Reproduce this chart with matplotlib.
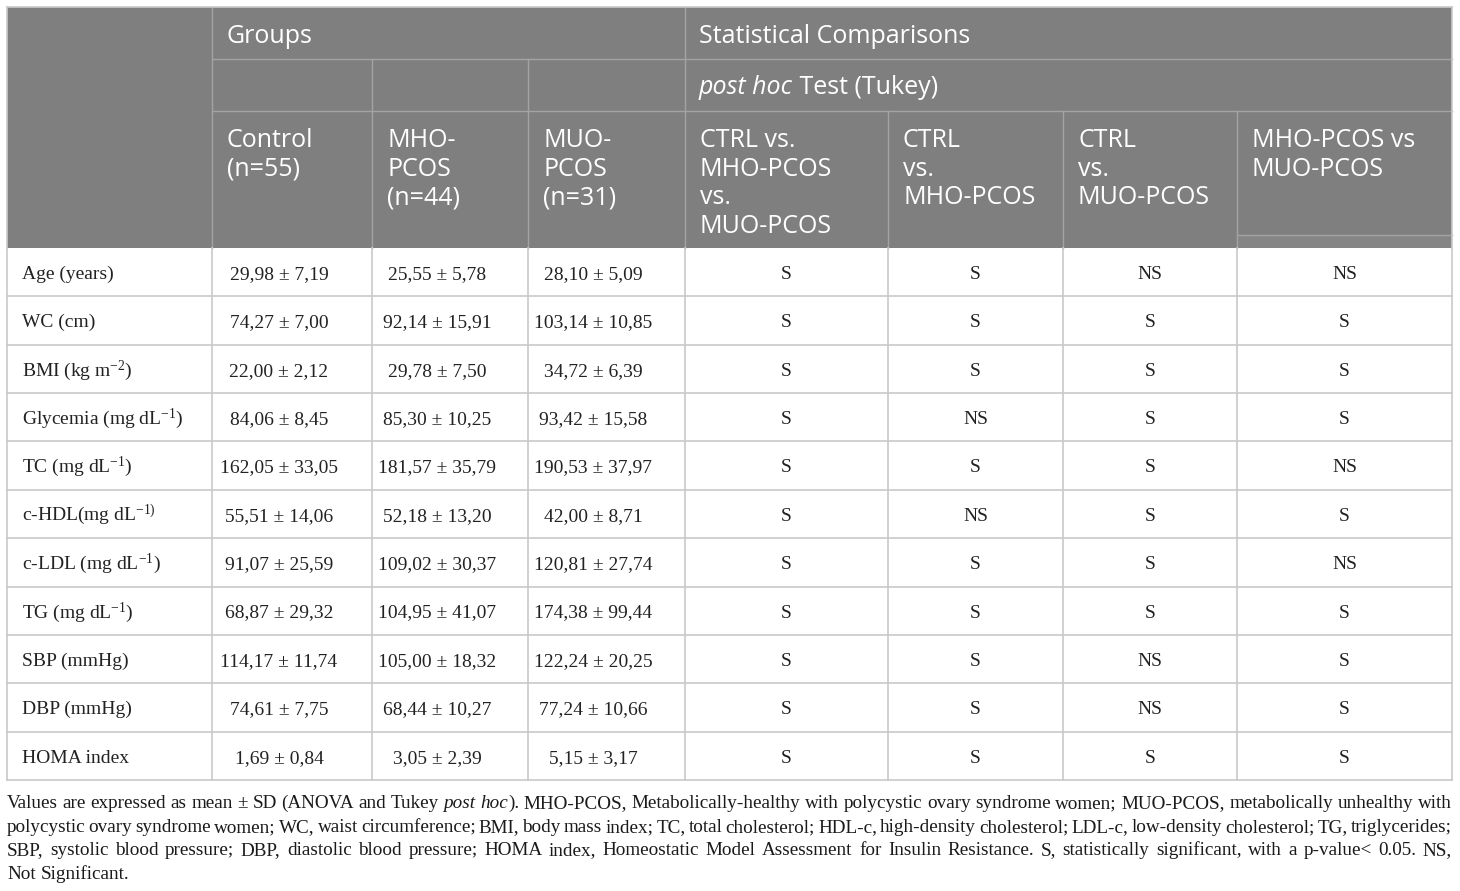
import matplotlib.pyplot as plt
import numpy as np

plt.rcParams['mathtext.fontset'] = 'custom'
plt.rcParams['mathtext.rm'] = 'Liberation Serif'
plt.rcParams['mathtext.it'] = 'Liberation Serif:italic'

# Table content
row_labels = ['Age (years)', 'WC (cm)', 'BMI (kg m$^{-2}$)', 'Glycemia (mg dL$^{-1}$)',
              'TC (mg dL$^{-1}$)', 'c-HDL(mg dL$^{-1)}$', 'c-LDL (mg dL$^{-1}$)',
              'TG (mg dL$^{-1}$)', 'SBP (mmHg)', 'DBP (mmHg)', 'HOMA index']

control = ['29,98 ± 7,19', '74,27 ± 7,00', '22,00 ± 2,12', '84,06 ± 8,45', '162,05 ± 33,05',
           '55,51 ± 14,06', '91,07 ± 25,59', '68,87 ± 29,32', '114,17 ± 11,74',
           '74,61 ± 7,75', '1,69 ± 0,84']
mho_pcos = ['25,55 ± 5,78', '92,14 ± 15,91', '29,78 ± 7,50', '85,30 ± 10,25', '181,57 ± 35,79',
            '52,18 ± 13,20', '109,02 ± 30,37', '104,95 ± 41,07', '105,00 ± 18,32',
            '68,44 ± 10,27', '3,05 ± 2,39']
muo_pcos = ['28,10 ± 5,09', '103,14 ± 10,85', '34,72 ± 6,39', '93,42 ± 15,58', '190,53 ± 37,97',
            '42,00 ± 8,71', '120,81 ± 27,74', '174,38 ± 99,44', '122,24 ± 20,25',
            '77,24 ± 10,66', '5,15 ± 3,17']

all_three = ['S'] * 11
ctrl_vs_mho = ['S', 'S', 'S', 'NS', 'S', 'NS', 'S', 'S', 'S', 'S', 'S']
ctrl_vs_muo = ['NS', 'S', 'S', 'S', 'S', 'S', 'S', 'S', 'NS', 'NS', 'S']
mho_vs_muo = ['NS', 'S', 'S', 'S', 'NS', 'S', 'NS', 'S', 'S', 'S', 'S']

group_headers = ['Control\n(n=55)', 'MHO-\nPCOS\n(n=44)', 'MUO-\nPCOS\n(n=31)']
comp_headers = ['CTRL vs.\nMHO-PCOS\nvs.\nMUO-PCOS', 'CTRL\nvs.\nMHO-PCOS',
                'CTRL\nvs.\nMUO-PCOS', 'MHO-PCOS vs\nMUO-PCOS']

footnote = [
    [[('Values', 'n')], [('are', 'n')], [('expressed', 'n')], [('as', 'n')], [('mean', 'n')],
     [('±', 'n')], [('SD', 'n')], [('(ANOVA', 'n')], [('and', 'n')], [('Tukey', 'n')],
     [('post', 'i')], [('hoc', 'i'), (').', 'n')]] +
    [[(w, 'n')] for w in 'MHO-PCOS, Metabolically-healthy with polycystic ovary syndrome women; '
                         'MUO-PCOS, metabolically unhealthy with'.split()],
    [[(w, 'n')] for w in 'polycystic ovary syndrome women; WC, waist circumference; BMI, body mass '
                         'index; TC, total cholesterol; HDL-c, high-density cholesterol; LDL-c, '
                         'low-density cholesterol; TG, triglycerides;'.split()],
    [[(w, 'n')] for w in 'SBP, systolic blood pressure; DBP, diastolic blood pressure; HOMA index, '
                         'Homeostatic Model Assessment for Insulin Resistance. S, statistically '
                         'significant, with a p-value< 0.05. NS,'.split()],
    [[(w, 'n')] for w in 'Not Significant.'.split()],
]

# layout (pixels)
W, H = 1460, 891
col_edges = [7, 212, 372, 528, 685, 888, 1063, 1237, 1452]
head_y = [7, 59, 111, 248]
row_tops = np.linspace(248, 780, 12)
header_bg = '#7f7f7f'
head_line = '#a3a3a3'
grid_col = '#c9c9c9'
sans = 'Open Sans'
serif = 'Liberation Serif'

fig = plt.figure(figsize=(W / 100, H / 100), dpi=100)
ax = fig.add_axes([0, 0, 1, 1])
ax.set_xlim(0, W)
ax.set_ylim(H, 0)
ax.axis('off')

# header background
ax.add_patch(plt.Rectangle((col_edges[0], head_y[0]), col_edges[-1] - col_edges[0],
                           head_y[-1] - head_y[0], color=header_bg, lw=0, zorder=0))
ax.add_patch(plt.Rectangle((col_edges[7], 235), col_edges[8] - col_edges[7], 13,
                           color='#858585', lw=0, zorder=0.5))
ax.plot([col_edges[7], col_edges[8]], [235, 235], color=head_line, lw=1)

# header lines
for y in head_y[1:3]:
    ax.plot([col_edges[1], col_edges[-1]], [y, y], color=head_line, lw=1)
ax.plot([col_edges[1], col_edges[1]], [head_y[0], head_y[-1]], color=head_line, lw=1)
ax.plot([col_edges[4], col_edges[4]], [head_y[0], head_y[-1]], color=head_line, lw=1)
for x in col_edges[2:4]:
    ax.plot([x, x], [head_y[1], head_y[-1]], color=head_line, lw=1)
for x in col_edges[5:8]:
    ax.plot([x, x], [head_y[2], head_y[-1]], color=head_line, lw=1)

# body grid
for y in row_tops[1:]:
    ax.plot([col_edges[0], col_edges[-1]], [y, y], color=grid_col, lw=1.2)
for x in col_edges:
    ax.plot([x, x], [row_tops[0], row_tops[-1]], color=grid_col, lw=1.2)
ax.plot([col_edges[0], col_edges[0]], [head_y[0], head_y[-1]], color=grid_col, lw=1.2)
ax.plot([col_edges[-1], col_edges[-1]], [head_y[0], head_y[-1]], color=grid_col, lw=1.2)
ax.plot([col_edges[0], col_edges[-1]], [head_y[0], head_y[0]], color=grid_col, lw=1.2)

# header text
hkw = dict(color='white', fontsize=18, family=sans, va='baseline', ha='left')
ax.text(col_edges[1] + 15, 43, 'Groups', **hkw)
ax.text(col_edges[4] + 14, 43, 'Statistical Comparisons', **hkw)
renderer = fig.canvas.get_renderer()
t = ax.text(col_edges[4] + 14, 94, 'post hoc', style='italic', **hkw)
bb = t.get_window_extent(renderer)
ax.text(col_edges[4] + 14 + bb.width, 94, ' Test (Tukey)', **hkw)

for j, lab in enumerate(group_headers + comp_headers):
    for k, line in enumerate(lab.split('\n')):
        ax.text(col_edges[j + 1] + 15, 147 + k * 28.7, line, **hkw)

# body text
bkw = dict(fontsize=14, family=serif, va='baseline', color='#222222')
columns = [control, mho_pcos, muo_pcos, all_three, ctrl_vs_mho, ctrl_vs_muo, mho_vs_muo]
for i, lab in enumerate(row_labels):
    yb = row_tops[i] + 31
    ax.text(col_edges[0] + 15, yb, lab, ha='left', **bkw)
    for j, col in enumerate(columns):
        xc = (col_edges[j + 1] + col_edges[j + 2]) / 2
        if j < 3:
            xc -= 13
        ax.text(xc, yb, col[i], ha='center', **bkw)

# footnote, justified
fkw = dict(family=serif, va='baseline', color='#1a1a1a')
fsize = 14.5
left, right = 7, 1452
base_y = [808, 832, 855, 879]


def word_width(word, size):
    w = 0
    for txt, st in word:
        tt = ax.text(0, 0, txt, fontsize=size, style='italic' if st == 'i' else 'normal', **fkw)
        w += tt.get_window_extent(renderer).width
        tt.remove()
    return w


def space_width(size):
    a = ax.text(0, 0, 'a a', fontsize=size, **fkw)
    b = ax.text(0, 0, 'aa', fontsize=size, **fkw)
    w = a.get_window_extent(renderer).width - b.get_window_extent(renderer).width
    a.remove()
    b.remove()
    return w


# shrink the font if a line would not fit with at least a narrow gap
for line in footnote[:3]:
    nat = sum(word_width(w, fsize) for w in line) + 0.6 * space_width(fsize) * (len(line) - 1)
    if nat > (right - left):
        fsize *= (right - left) / nat * 0.995

for li, line in enumerate(footnote):
    widths = [word_width(w, fsize) for w in line]
    if li < 3:
        gap = ((right - left) - sum(widths)) / (len(line) - 1)
    else:
        gap = space_width(fsize)
    x = left
    for word, ww in zip(line, widths):
        xx = x
        for txt, st in word:
            tt = ax.text(xx, base_y[li], txt, fontsize=fsize, ha='left',
                         style='italic' if st == 'i' else 'normal', **fkw)
            xx += tt.get_window_extent(renderer).width
        x += ww + gap

fig.savefig('out.png', dpi=100)
